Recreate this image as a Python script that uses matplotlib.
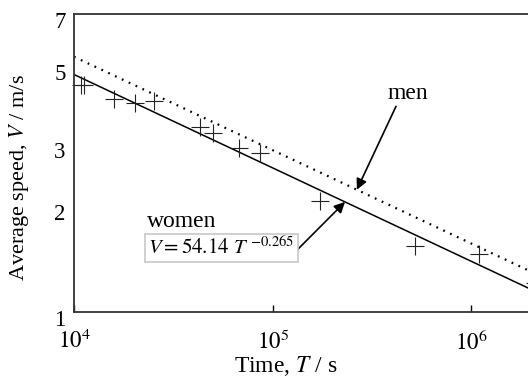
import numpy as np
import matplotlib
matplotlib.use("Agg")
import matplotlib.pyplot as plt
import matplotlib.transforms as mtransforms

# Women's record performances: duration T (s) and average speed V (m/s)
T_WOMEN = [10840, 11230, 15850, 20370, 25170, 43250, 49800, 68000, 86500,
           173300, 520000, 1090000, 2080000]
V_WOMEN = [4.40, 4.40, 4.01, 3.92, 3.97, 3.35, 3.21, 2.91, 2.82,
           2.07, 1.54, 1.46, 1.21]

# Power-law fits V = C * T^k
WOMEN_COEF = 54.14
WOMEN_EXP = -0.265
MEN_COEF = 60.8
MEN_EXP = -0.265

T_RANGE = [1e4, 10**6.4]
Y_TICKS = [1, 2, 3, 5, 7]
X_TICKS = [1e4, 1e5, 1e6]
X_TICK_LABELS = [r'$10^4$', r'$10^5$', r'$10^6$']

plt.rcParams['font.family'] = ['Liberation Serif', 'DejaVu Serif']
plt.rcParams['mathtext.fontset'] = 'stix'

fig = plt.figure(figsize=(5.28, 3.81), dpi=100)
ax = fig.add_axes([74 / 528, 69 / 381, 477 / 528, 298 / 381])

t_line = np.logspace(np.log10(T_RANGE[0]), np.log10(T_RANGE[1]), 50)
ax.plot(t_line, WOMEN_COEF * t_line ** WOMEN_EXP, color='black', lw=1.1)
ax.plot(t_line, MEN_COEF * t_line ** MEN_EXP, color='black', lw=1.6,
        linestyle=(0, (0.8, 2.6)))
ax.plot(T_WOMEN, V_WOMEN, linestyle='none', marker='+', markersize=13,
        markeredgewidth=0.8, color='#222222', clip_on=False)

ax.set_xscale('log')
ax.set_yscale('log')
ax.set_xlim(T_RANGE)
ax.set_ylim(1, 7)

ax.set_xticks(X_TICKS)
ax.set_xticklabels(X_TICK_LABELS)
ax.xaxis.set_minor_locator(matplotlib.ticker.NullLocator())
ax.set_yticks(Y_TICKS)
ax.set_yticklabels([str(v) for v in Y_TICKS])
ax.yaxis.set_minor_locator(matplotlib.ticker.NullLocator())
ax.tick_params(axis='x', direction='in', length=5, width=1, pad=13,
               labelsize=16.5)
ax.tick_params(axis='y', length=0, pad=6, labelsize=16.5)

# y tick labels sit a little below their tick values
shift = mtransforms.ScaledTranslation(0, -6 / 100, fig.dpi_scale_trans)
for lab in ax.get_yticklabels():
    lab.set_transform(lab.get_transform() + shift)

for side in ['left', 'bottom', 'top', 'right']:
    ax.spines[side].set_color('#333333')
    ax.spines[side].set_linewidth(1.3)

ax.set_xlabel('Time, $T$ / s', fontsize=17)
ax.xaxis.set_label_coords(0.445, -0.14)
ax.set_ylabel('Average speed, $V$ / m/s', fontsize=16)
ax.yaxis.set_label_coords(-0.09, 0.45)

arrow = dict(arrowstyle='-|>', color='black', lw=1.2, mutation_scale=16,
             shrinkA=0, shrinkB=0)

# men: label and arrow onto the dotted fit
t_men = 2.65e5
ax.text(4.8e5, 4.17, 'men', fontsize=17, ha='center', va='center')
ax.annotate('', xy=(t_men, MEN_COEF * t_men ** MEN_EXP),
            xytext=(4.17e5, 3.83), arrowprops=arrow)

# women: label, boxed fit equation and arrow onto the solid fit
t_wom = 2.31e5
ax.annotate('', xy=(t_wom, WOMEN_COEF * t_wom ** WOMEN_EXP),
            xytext=(1.287e5, 1.474), arrowprops=arrow)
ax.text(2.34e4, 1.80, 'women', fontsize=17, ha='left', va='center')
ax.text(2.37e4, 1.52, r'$V = 54.14\ T^{\ \mathrm{-0.265}}$', fontsize=15,
        ha='left', va='center',
        bbox=dict(boxstyle='square,pad=0.15', facecolor='white',
                  edgecolor='#c8c8c8', lw=1.2))

fig.savefig('out.png', dpi=100)
